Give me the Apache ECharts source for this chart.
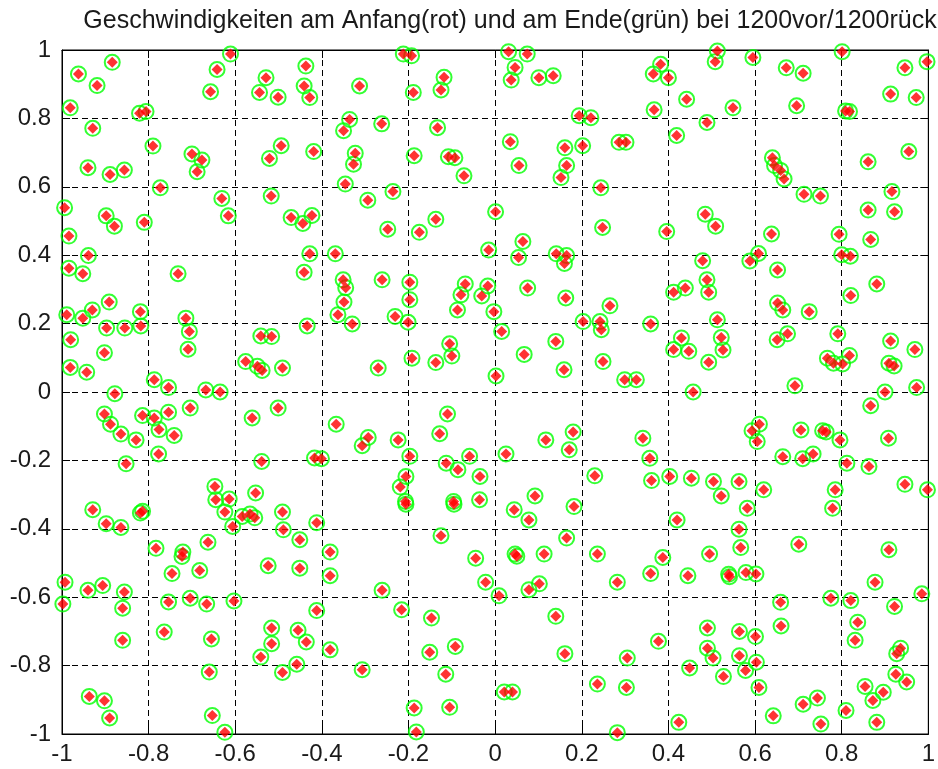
<!DOCTYPE html>
<html>
<head>
<meta charset="utf-8">
<script src="https://cdn.jsdelivr.net/npm/echarts@6/dist/echarts.min.js"></script>
<style>
html,body{margin:0;padding:0;background:#fff;}
#chart{width:938px;height:769px;}
</style>
</head>
<body>
<div id="chart"></div>
<script>
const titleText = 'Geschwindigkeiten am Anfang(rot) und am Ende(grün) bei 1200vor/1200rück';
const axisMin = -1, axisMax = 1, axisStep = 0.2;

// Start positions (red)
const startX = [
-0.884,-0.962,-0.919,-0.981,-0.821,-0.806,-0.929,-0.790,-0.700,-0.677,-0.688,-0.940,-0.889,-0.856,-0.773,-0.994,-0.898,-0.879,-0.810,-0.631,-0.616,-0.984,-0.939,-0.657,-0.642,-0.611,
-0.437,-0.529,-0.544,-0.501,-0.441,-0.428,-0.313,-0.212,-0.193,-0.189,-0.118,-0.125,-0.336,-0.350,-0.262,-0.133,-0.494,-0.521,-0.419,-0.323,-0.327,-0.187,-0.108,-0.093,-0.072,-0.346,-0.517,-0.294,-0.236,-0.471,-0.444,-0.423,-0.248,-0.175,-0.137,-0.428,-0.369,
0.031,0.074,0.046,0.037,0.101,0.134,0.194,0.221,0.367,0.365,0.382,0.400,0.442,0.035,0.055,0.161,0.202,0.165,0.152,0.286,0.302,0.419,0.244,0.001,0.248,0.396,0.064,-0.015,0.054,0.141,0.165,0.160,
0.513,0.508,0.595,0.672,0.711,0.801,0.946,0.997,0.913,0.972,0.549,0.696,0.809,0.818,0.489,0.640,0.645,0.659,0.667,0.713,0.751,0.861,0.955,0.916,0.861,0.922,0.485,0.509,0.638,0.794,0.867,0.588,0.608,0.800,0.820,0.479,
-0.984,-0.952,-0.732,-0.989,-0.952,-0.930,-0.891,-0.819,-0.818,-0.897,-0.855,-0.714,-0.706,-0.709,-0.980,-0.902,-0.981,-0.943,-0.787,-0.754,-0.668,-0.635,-0.576,-0.549,-0.878,-0.902,-0.888,-0.864,-0.829,-0.814,-0.787,-0.776,-0.754,-0.741,-0.704,-0.777,-0.852,-0.561,-0.647,-0.645,-0.614,-0.553,
-0.441,-0.351,-0.345,-0.349,-0.363,-0.330,-0.434,-0.261,-0.197,-0.197,-0.231,-0.201,-0.069,-0.079,-0.087,-0.541,-0.516,-0.538,-0.491,-0.270,-0.192,-0.137,-0.105,-0.100,-0.501,-0.367,-0.293,-0.307,-0.224,-0.110,-0.128,-0.197,-0.417,-0.401,-0.539,-0.113,-0.086,-0.059,-0.206,-0.219,-0.207,-0.096,
-0.017,-0.031,-0.003,0.015,0.075,0.163,0.140,0.067,0.159,0.002,0.203,0.242,0.245,0.265,0.359,0.249,0.299,0.326,0.412,0.439,0.430,0.412,0.447,0.457,0.180,0.117,0.171,0.025,0.341,0.357,-0.035,0.230,0.361,0.403,0.453,0.092,-0.036,
0.652,0.489,0.493,0.652,0.664,0.725,0.821,0.881,0.513,0.522,0.526,0.493,0.651,0.675,0.791,0.767,0.781,0.802,0.818,0.913,0.969,0.909,0.921,0.692,0.900,0.973,0.867,0.593,0.610,0.605,0.706,0.756,0.764,0.796,0.908,0.664,0.710,0.734,0.812,0.863,0.504,0.563,0.522,0.620,0.785,0.946,0.998,
-0.929,-0.898,-0.864,-0.819,-0.814,-0.624,-0.606,-0.584,-0.566,-0.555,-0.783,-0.721,-0.723,-0.663,-0.746,-0.682,-0.993,-0.998,-0.940,-0.906,-0.856,-0.860,-0.754,-0.704,-0.666,-0.603,-0.764,-0.860,-0.655,-0.660,-0.937,-0.902,-0.890,-0.653,-0.624,
-0.491,-0.489,-0.451,-0.412,-0.524,-0.451,-0.381,-0.381,-0.206,-0.095,-0.125,-0.261,-0.412,-0.216,-0.147,-0.516,-0.455,-0.516,-0.436,-0.381,-0.541,-0.458,-0.491,-0.307,-0.151,-0.092,-0.114,-0.187,-0.105,-0.182,-0.045,
0.044,0.078,0.182,0.165,0.420,0.046,0.050,0.113,0.236,0.387,0.359,0.445,-0.022,0.009,0.078,0.102,0.282,0.140,0.377,0.161,0.305,0.449,0.021,0.040,0.236,0.303,0.424,0.282,
0.582,0.779,0.563,0.701,0.909,0.495,0.567,0.539,0.541,0.579,0.602,0.877,0.985,0.775,0.821,0.922,0.659,0.660,0.837,0.831,0.490,0.564,0.601,0.490,0.503,0.564,0.603,0.578,0.527,0.609,0.936,0.927,0.925,0.950,0.854,0.896,0.872,0.711,0.744,0.810,0.642,0.752,0.881
];
const startY = [
0.964,0.930,0.896,0.831,0.815,0.820,0.771,0.719,0.696,0.678,0.644,0.656,0.636,0.649,0.597,0.539,0.515,0.485,0.496,0.566,0.515,0.456,0.399,0.878,0.943,0.988,
0.953,0.919,0.876,0.862,0.895,0.861,0.895,0.988,0.983,0.876,0.920,0.883,0.797,0.764,0.784,0.773,0.720,0.683,0.703,0.698,0.666,0.691,0.688,0.685,0.632,0.608,0.573,0.561,0.586,0.510,0.493,0.516,0.476,0.467,0.505,0.404,0.404,
0.995,0.988,0.949,0.912,0.919,0.925,0.808,0.802,0.825,0.930,0.958,0.919,0.856,0.732,0.662,0.714,0.720,0.662,0.627,0.730,0.730,0.750,0.597,0.527,0.481,0.469,0.440,0.415,0.393,0.404,0.399,0.376,
0.997,0.966,0.978,0.948,0.932,0.995,0.948,0.966,0.871,0.861,0.831,0.837,0.822,0.820,0.788,0.685,0.662,0.648,0.623,0.578,0.573,0.673,0.703,0.586,0.532,0.527,0.520,0.485,0.462,0.461,0.446,0.383,0.405,0.401,0.397,0.384,
0.362,0.346,0.346,0.226,0.216,0.240,0.263,0.235,0.193,0.187,0.187,0.216,0.177,0.125,0.153,0.115,0.072,0.058,0.036,0.013,0.006,0.000,0.089,0.075,-0.005,-0.064,-0.094,-0.123,-0.140,-0.069,-0.076,-0.110,-0.059,-0.127,-0.047,-0.181,-0.210,-0.076,-0.276,-0.315,-0.313,-0.295,
0.350,0.328,0.305,0.263,0.226,0.199,0.193,0.328,0.321,0.270,0.221,0.204,0.316,0.284,0.240,0.164,0.162,0.063,0.070,0.070,0.099,0.086,0.141,0.105,-0.047,-0.094,-0.133,-0.157,-0.140,-0.064,-0.122,-0.188,-0.193,-0.195,-0.203,-0.208,-0.227,-0.188,-0.247,-0.278,-0.320,-0.320,
0.310,0.281,0.235,0.177,0.304,0.275,0.148,0.110,0.065,0.047,0.206,0.206,0.182,0.252,0.199,0.089,0.036,0.036,0.292,0.304,0.158,0.124,0.119,0.000,-0.117,-0.140,-0.169,-0.181,-0.135,-0.194,-0.247,-0.245,-0.259,-0.247,-0.252,-0.304,-0.315,
0.357,0.328,0.292,0.260,0.240,0.235,0.282,0.316,0.211,0.159,0.123,0.087,0.153,0.170,0.170,0.099,0.084,0.082,0.107,0.149,0.124,0.084,0.076,0.018,0.000,0.013,-0.040,-0.113,-0.094,-0.145,-0.111,-0.113,-0.117,-0.140,-0.135,-0.189,-0.195,-0.181,-0.208,-0.218,-0.262,-0.262,-0.304,-0.286,-0.286,-0.270,-0.286,
-0.344,-0.385,-0.396,-0.354,-0.349,-0.351,-0.393,-0.364,-0.357,-0.368,-0.457,-0.468,-0.481,-0.439,-0.531,-0.522,-0.556,-0.620,-0.580,-0.566,-0.585,-0.632,-0.614,-0.603,-0.620,-0.611,-0.702,-0.726,-0.722,-0.819,-0.890,-0.903,-0.953,-0.946,-0.995,
-0.351,-0.403,-0.432,-0.382,-0.508,-0.515,-0.468,-0.537,-0.328,-0.328,-0.420,-0.580,-0.639,-0.637,-0.661,-0.690,-0.697,-0.736,-0.731,-0.754,-0.775,-0.796,-0.820,-0.812,-0.761,-0.744,-0.825,-0.924,-0.922,-0.994,-0.486,
-0.344,-0.374,-0.335,-0.427,-0.374,-0.474,-0.480,-0.474,-0.474,-0.484,-0.531,-0.537,-0.556,-0.596,-0.578,-0.561,-0.556,-0.656,-0.729,-0.765,-0.778,-0.807,-0.877,-0.877,-0.854,-0.864,-0.966,-0.996,
-0.340,-0.340,-0.401,-0.445,-0.461,-0.474,-0.455,-0.533,-0.540,-0.528,-0.532,-0.556,-0.590,-0.603,-0.610,-0.627,-0.615,-0.684,-0.673,-0.726,-0.690,-0.700,-0.715,-0.749,-0.778,-0.771,-0.790,-0.814,-0.832,-0.864,-0.749,-0.765,-0.825,-0.848,-0.861,-0.878,-0.902,-0.913,-0.895,-0.931,-0.947,-0.971,-0.966
];
// End positions (green) coincide with the start positions in the picture
const endX = startX.slice();
const endY = startY.slice();

const startData = startX.map((x, i) => [x, startY[i]]);
const endData = endX.map((x, i) => [x, endY[i]]);

const chart = echarts.init(document.getElementById('chart'), null, {renderer: 'canvas'});
const fontFam = 'Liberation Sans, Arial, sans-serif';
const labelStyle = {color: '#1a1a1a', fontSize: 24, fontFamily: fontFam};
const gridLine = {show: true, lineStyle: {color: '#000', width: 1, type: [6, 4]}};
const boxLine = {show: true, onZero: false, lineStyle: {color: '#000', width: 1}};
const inTick = {show: true, inside: true, length: 8, lineStyle: {color: '#000'}};

chart.setOption({
  animation: false,
  backgroundColor: '#fff',
  title: {
    text: titleText,
    left: 505, top: 4,
    textAlign: 'center',
    textStyle: {color: '#1a1a1a', fontSize: 25, fontWeight: 'normal', fontFamily: fontFam}
  },
  grid: {left: 62, right: 7, top: 50, bottom: 35, show: true, borderColor: '#000', borderWidth: 1, backgroundColor: '#fff'},
  xAxis: [
    {type: 'value', min: axisMin, max: axisMax, interval: axisStep, position: 'bottom',
     axisLine: boxLine, axisTick: inTick,
     axisLabel: Object.assign({margin: 8}, labelStyle),
     splitLine: gridLine},
    {type: 'value', min: axisMin, max: axisMax, interval: axisStep, position: 'top',
     axisLine: boxLine, axisTick: inTick,
     axisLabel: {show: false}, splitLine: {show: false}}
  ],
  yAxis: [
    {type: 'value', min: axisMin, max: axisMax, interval: axisStep, position: 'left',
     axisLine: boxLine, axisTick: inTick,
     axisLabel: Object.assign({margin: 11}, labelStyle),
     splitLine: gridLine},
    {type: 'value', min: axisMin, max: axisMax, interval: axisStep, position: 'right',
     axisLine: boxLine, axisTick: inTick,
     axisLabel: {show: false}, splitLine: {show: false}}
  ],
  series: [
    {name: 'Ende (grün)', type: 'scatter', data: endData, symbol: 'circle', symbolSize: 15,
     itemStyle: {color: 'rgba(0,0,0,0)', borderColor: '#00ff00', borderWidth: 2}, z: 2, silent: true},
    {name: 'Anfang (rot)', type: 'scatter', data: startData, symbol: 'diamond', symbolSize: 11,
     itemStyle: {color: '#ff0000'}, z: 3, silent: true}
  ]
});
</script>
</body>
</html>
